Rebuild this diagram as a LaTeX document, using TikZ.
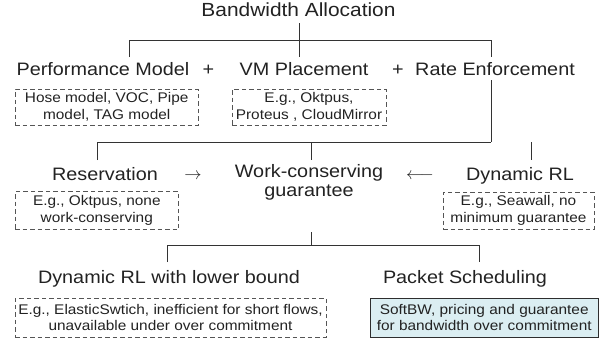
\documentclass[tikz,border=0pt]{standalone}
\usepackage{fontspec}
\setmainfont{Liberation Sans}[FakeStretch=1.1]
\definecolor{txt}{RGB}{34,34,34}
\definecolor{ln}{RGB}{51,51,51}
\definecolor{dsh}{RGB}{85,85,85}
\definecolor{softblue}{RGB}{219,238,242}
\begin{document}
\begin{tikzpicture}[x=1pt,y=-1pt,
  big/.style={inner sep=0pt,anchor=base,text=txt,font=\fontsize{19}{22}\selectfont},
  lab/.style={inner sep=0pt,anchor=base,text=txt,font=\fontsize{18}{21}\selectfont},
  lab2/.style={inner sep=0pt,anchor=center,text=txt,align=center,font=\fontsize{18}{18}\selectfont},
  note/.style={draw=dsh,line width=0.9pt,dash pattern=on 4.5pt off 3pt,inner sep=0pt,align=center,text=txt,
    font=\fontsize{14}{16.5}\selectfont},
  hl/.style={draw=ln!90!black,line width=0.9pt,fill=softblue,inner sep=0pt,align=center,text=txt,
    font=\fontsize{14}{16.5}\selectfont},
  tree/.style={draw=ln,line width=0.9pt}]
\useasboundingbox (0,0) rectangle (604,341);

% Title
\node[big] (title) at (298.5,16.7) {Bandwidth Allocation};

% Row 2
\node[lab] (perf) at (103,75.7) {Performance Model};
\node[lab] (plus1) at (208.5,75.7) {+};
\node[lab] (vm) at (304,75.7) {VM Placement};
\node[lab] (plus2) at (398,75.7) {+};
\node[lab] (rate) at (495,75.7) {Rate Enforcement};

\node[note,minimum width=183pt,minimum height=36pt] (b1) at (106.7,107) {Hose model, VOC, Pipe\\model, TAG model};
\node[note,minimum width=154pt,minimum height=36pt] (b2) at (309,107) {E.g., Oktpus,\\Proteus , CloudMirror};

% Row 3
\node[lab] (res) at (105,180) {Reservation};
\node[lab,font=\fontsize{17}{17}\selectfont] (arr1) at (193,179) {$\rightarrow$};
\node[lab2] (work) at (309,182) {Work-conserving\\[1pt]guarantee};
\node[lab] (arr2) at (420,179) {$\longleftarrow$};
\node[lab] (dyn) at (520,180) {Dynamic RL};

\node[note,minimum width=163.5pt,minimum height=38pt] (b3) at (96.8,210.5) {E.g., Oktpus, none\\work-conserving};
\node[note,minimum width=151pt,minimum height=37pt] (b4) at (518.5,210.5) {E.g., Seawall, no\\minimum guarantee};

% Row 4
\node[lab] (dynlb) at (169,283.3) {Dynamic RL with lower bound};
\node[lab] (pkt) at (465,283.3) {Packet Scheduling};

\node[note,minimum width=311pt,minimum height=39pt] (b5) at (170.5,317.5) {E.g., ElasticSwtich, inefficient for short flows,\\unavailable under over commitment};
\node[hl,minimum width=228.5pt,minimum height=39pt] (b6) at (484.2,317.5) {SoftBW, pricing and guarantee\\for bandwidth over commitment};

% Tree coordinates
\coordinate (t0) at (299,23);
\coordinate (t1) at (299,40.5);
\coordinate (tL) at (129,40.5);
\coordinate (tR) at (491,40.5);
\coordinate (dL) at (129,57);
\coordinate (dM) at (299,57);
\coordinate (dR) at (491,57);

\coordinate (r0) at (491,80);
\coordinate (r1) at (491,142);
\coordinate (rL) at (97.5,142);
\coordinate (rM) at (311,142);
\coordinate (eL) at (97.5,160);
\coordinate (eM) at (311,160);
\coordinate (eR) at (531,160);
\coordinate (rR) at (531,142);

\coordinate (w0) at (311,232);
\coordinate (w1) at (311,245);
\coordinate (wL) at (167,245);
\coordinate (wR) at (479,245);
\coordinate (fL) at (167,262);
\coordinate (fR) at (479,262);

\draw[tree] (t0) -- (t1);
\draw[tree] (dL) -- (tL) -- (tR) -- (dR);
\draw[tree] (t1) -- (dM);

\draw[tree] (r0) -- (r1);
\draw[tree] (eL) -- (rL) -- (r1);
\draw[tree] (rM) -- (eM);
\draw[tree] (rR) -- (eR);

\draw[tree] (w0) -- (w1);
\draw[tree] (fL) -- (wL) -- (wR) -- (fR);
\end{tikzpicture}
\end{document}
